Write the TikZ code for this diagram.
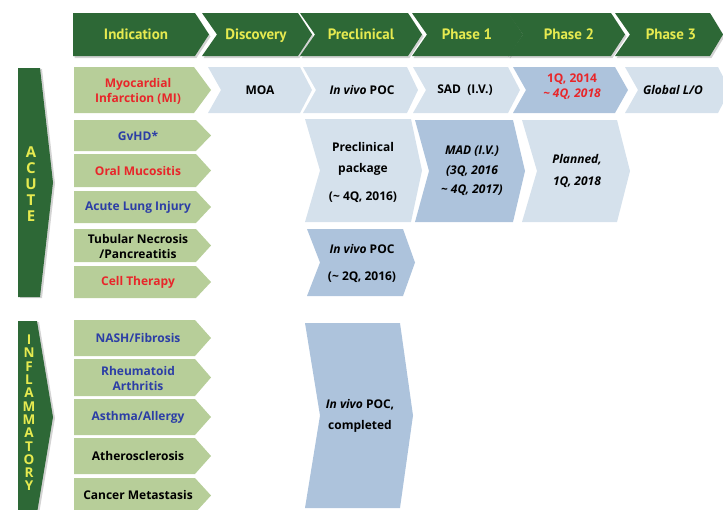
\documentclass[tikz,border=0pt]{standalone}
\usepackage{fontspec}
\setmainfont{Open Sans}
\newfontfamily\hdrfont{PT Sans}
\usetikzlibrary{shadows}

\definecolor{hdrgreen}{RGB}{45,104,54}
\definecolor{hdryellow}{RGB}{230,234,80}
\definecolor{indgreen}{RGB}{183,206,153}
\definecolor{liteblue}{RGB}{213,225,236}
\definecolor{darkblue}{RGB}{173,195,220}
\definecolor{txtred}{RGB}{232,38,42}
\definecolor{txtblue}{RGB}{44,62,166}

% chevron: style, left x, tip x, top y, bottom y, tip depth, notch depth
\newcommand{\chev}[7]{%
  \path[#1] (#2,#4) -- ({#3-#6},#4) -- (#3,{(#4+#5)/2}) -- ({#3-#6},#5)
    -- (#2,#5) -- ({#2+#7},{(#4+#5)/2}) -- cycle;}

\begin{document}
\begin{tikzpicture}[x=1pt, y=-1pt,
  font=\bfseries\fontsize{12}{15}\selectfont,
  hdr/.style={fill=hdrgreen, drop shadow={shadow xshift=1.5pt,
              shadow yshift=-2pt, opacity=.35}},
  side/.style={fill=hdrgreen, drop shadow={shadow xshift=2pt,
               shadow yshift=-1pt, opacity=.35}},
  ind/.style={fill=indgreen},
  lite/.style={fill=liteblue},
  dark/.style={fill=darkblue},
  hdrtxt/.style={font=\hdrfont\bfseries\fontsize{15}{17}\selectfont,
                 text=hdryellow, inner sep=0pt, text height=11pt,
                 text depth=3pt},
  sidetxt/.style={text=hdryellow, align=center, inner sep=0pt},
  lbl/.style={align=center, inner sep=0pt}]
\useasboundingbox (0,0) rectangle (723,509);
\clip (0,0) rectangle (723,509);

% header
\chev{hdr}{73}{209}{13}{56}{14}{0}
\chev{hdr}{202}{312}{13}{56}{14}{15}
\chev{hdr}{300}{422}{13}{56}{14}{15}
\chev{hdr}{412}{523}{13}{56}{14}{15}
\chev{hdr}{508}{625}{13}{56}{14}{15}
\chev{hdr}{615}{723}{13}{56}{13}{15}
\node[hdrtxt] (indication) at (136,35) {Indication};
\node[hdrtxt] (discovery) at (256,35) {Discovery};
\node[hdrtxt] (preclinical) at (361,35) {Preclinical};
\node[hdrtxt] (phase1) at (467,35) {Phase 1};
\node[hdrtxt] (phase2) at (569,35) {Phase 2};
\node[hdrtxt] (phase3) at (671,35) {Phase 3};

% side bars
\chev{side}{18}{53}{68}{297}{13}{0}
\chev{side}{18}{53}{321}{513}{16}{0}
\node[sidetxt, font=\bfseries\fontsize{15}{16}\selectfont] (acute)
  at (31,184) {A\\C\\U\\T\\E};
\node[sidetxt, font=\bfseries\fontsize{13.5}{13.3}\selectfont] (inflam)
  at (29,413) {I\\N\\F\\L\\A\\M\\M\\A\\T\\O\\R\\Y};

% indications
\chev{ind}{74}{211}{67}{113}{17}{0}
\chev{ind}{74}{211}{120}{151}{15}{0}
\chev{ind}{74}{211}{154}{187}{15}{0}
\chev{ind}{74}{211}{191}{223}{15}{0}
\chev{ind}{74}{211}{229}{262}{15}{0}
\chev{ind}{74}{211}{266}{298}{15}{0}
\chev{ind}{74}{211}{320}{356}{16}{0}
\chev{ind}{74}{211}{359}{396}{16}{0}
\chev{ind}{74}{211}{399}{435}{16}{0}
\chev{ind}{74}{211}{438}{474}{16}{0}
\chev{ind}{74}{211}{478}{513}{16}{0}
\node[lbl, text=txtred] (mi) at (138,91) {Myocardial\\Infarction (MI)};
\node[lbl, text=txtblue] (gvhd) at (138,136) {GvHD*};
\node[lbl, text=txtred] (oral) at (138,171) {Oral Mucositis};
\node[lbl, text=txtblue] (lung) at (138,207) {Acute Lung Injury};
\node[lbl] (tubular) at (138,246) {Tubular Necrosis\\/Pancreatitis};
\node[lbl, text=txtred] (cell) at (138,282) {Cell Therapy};
\node[lbl, text=txtblue] (nash) at (138,338) {NASH/Fibrosis};
\node[lbl, text=txtblue] (ra) at (138,378) {Rheumatoid\\Arthritis};
\node[lbl, text=txtblue] (asthma) at (138,417) {Asthma/Allergy};
\node[lbl] (athero) at (138,456) {Atherosclerosis};
\node[lbl] (cancer) at (138,495) {Cancer Metastasis};

% MI row
\chev{lite}{208}{312}{67}{113}{12}{13}
\chev{lite}{303}{418}{67}{113}{11}{13}
\chev{lite}{413}{520}{67}{113}{12}{13}
\chev{dark}{513}{628}{67}{113}{13}{13}
\chev{lite}{625}{730}{67}{113}{12}{13}
\node[lbl] (moa) at (260,90) {MOA};
\node[lbl] (poc) at (362,90) {\itshape In vivo \upshape POC};
\node[lbl] (sad) at (465,90) {SAD~~(I.V.)};
\node[lbl, text=txtred] (mi2) at (572,87)
  {1Q, 2014\\\itshape \textasciitilde{} 4Q, 2018};
\node[lbl, font=\bfseries\itshape\fontsize{12}{15}\selectfont] (lo)
  at (673,90) {Global L/O};

% acute group
\chev{lite}{305}{422}{119}{222}{11}{15}
\chev{dark}{415}{525}{120}{222}{12}{14}
\chev{lite}{522}{630}{120}{222}{13}{15}
\chev{dark}{307}{415}{229}{296}{12}{13}
\node[lbl, font=\bfseries\fontsize{12}{21}\selectfont] (package)
  at (363,172) {Preclinical\\package\\[7pt](\textasciitilde{} 4Q, 2016)};
\node[lbl, font=\bfseries\itshape\fontsize{12}{19.5}\selectfont] (mad)
  at (472,171) {MAD (I.V.)\\(3Q, 2016\\\textasciitilde{} 4Q, 2017)};
\node[lbl, font=\bfseries\itshape\fontsize{12}{22}\selectfont] (planned)
  at (577,171) {Planned,\\1Q, 2018};
\node[lbl, font=\bfseries\fontsize{12}{27}\selectfont] (poc2)
  at (362,263) {{\itshape In vivo} POC\\(\textasciitilde{} 2Q, 2016)};

% inflammatory group
\chev{dark}{305}{413}{323}{508}{13}{15}
\node[lbl, font=\bfseries\fontsize{12}{21}\selectfont] (poc3)
  at (360,416) {{\itshape In vivo} POC,\\completed};
\end{tikzpicture}
\end{document}
